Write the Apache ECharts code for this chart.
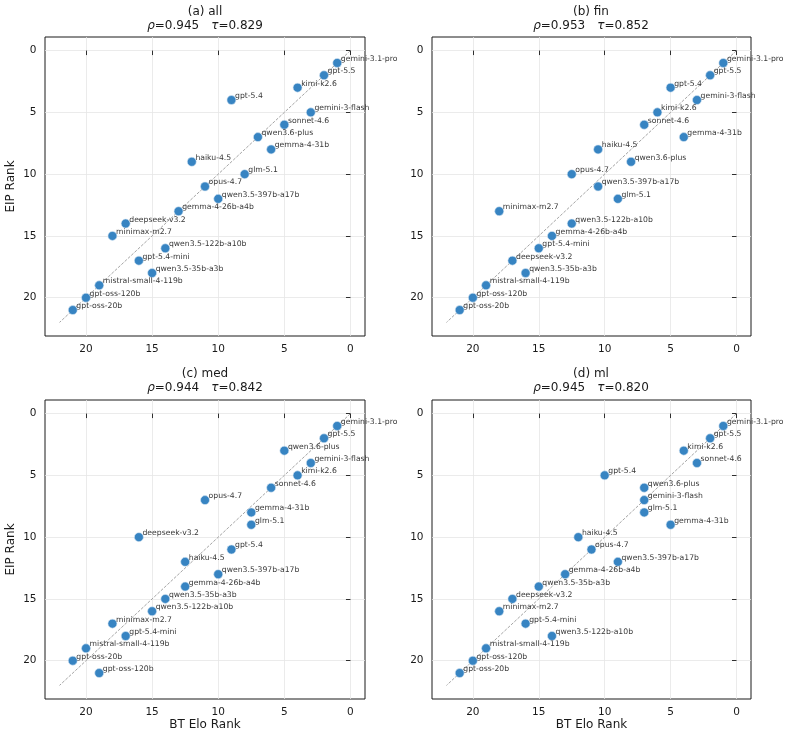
<!DOCTYPE html>
<html><head><meta charset="utf-8">
<script src="https://cdn.jsdelivr.net/npm/echarts@6/dist/echarts.min.js"></script>
<style>html,body{margin:0;padding:0;background:#fff}#c{width:790px;height:739px}</style>
</head><body><div id="c"></div>
<script>
// ---- data ----
const models = ['gemini-3.1-pro','gpt-5.5','kimi-k2.6','gpt-5.4','gemini-3-flash','sonnet-4.6','qwen3.6-plus','gemma-4-31b','haiku-4.5','glm-5.1','opus-4.7','qwen3.5-397b-a17b','gemma-4-26b-a4b','deepseek-v3.2','minimax-m2.7','qwen3.5-122b-a10b','gpt-5.4-mini','qwen3.5-35b-a3b','mistral-small-4-119b','gpt-oss-120b','gpt-oss-20b'];

const panelTitles = ['(a) all','(b) fin','(c) med','(d) ml'];
const rhoValues = ['0.945','0.953','0.944','0.945'];
const tauValues = ['0.829','0.852','0.842','0.820'];

// BT Elo rank (x) and EIP rank (y), in the order of `models`
const btAll  = [1,2,4,9,3,5,7,6,12,8,11,10,13,17,18,14,16,15,19,20,21];
const eipAll = [1,2,3,4,5,6,7,8,9,10,11,12,13,14,15,16,17,18,19,20,21];

const btFin  = [1,2,6,5,3,7,8,4,10.5,9,12.5,10.5,14,17,18,12.5,15,16,19,20,21];
const eipFin = [1,2,5,3,4,6,9,7,8,12,10,11,15,17,13,14,16,18,19,20,21];

const btMed  = [1,2,4,9,3,6,5,7.5,12.5,7.5,11,10,12.5,16,18,15,17,14,20,19,21];
const eipMed = [1,2,5,11,4,6,3,8,12,9,7,13,14,10,17,16,18,15,19,21,20];

const btMl   = [1,2,4,10,7,3,7,5,12,7,11,9,13,17,18,14,16,15,19,20,21];
const eipMl  = [1,2,3,5,7,4,6,9,10,8,11,12,13,15,16,18,17,14,19,20,21];

const tickValues = [0,5,10,15,20];
const diagEnds = [0,22];
const xAxisName = 'BT Elo Rank';
const yAxisName = 'EIP Rank';

// ---- chart ----
const FONT = 'DejaVu Sans';
const panels = [[btAll,eipAll],[btFin,eipFin],[btMed,eipMed],[btMl,eipMl]];
const gridBoxes = [
  {left:45, top:37, width:320, height:299},
  {left:432, top:37, width:319, height:299},
  {left:45, top:400, width:320, height:299},
  {left:432, top:400, width:319, height:299}
];
const titleCenters = [[205,12],[591,12],[205,373.5],[591,373.5]];

const grids = [], xAxes = [], yAxes = [], series = [], graphics = [];
panels.forEach((p, i) => {
  const g = gridBoxes[i];
  grids.push(Object.assign({show:true, borderColor:'#1a1a1a', borderWidth:1, backgroundColor:'transparent'}, g));
  xAxes.push({
    type:'value', gridIndex:i, inverse:true, min:-1.1, max:23.1,
    name: i >= 2 ? xAxisName : '', nameLocation:'middle', nameGap:19,
    nameTextStyle:{fontFamily:FONT, fontSize:12, color:'#1a1a1a'},
    axisLine:{show:false},
    axisTick:{show:true, length:4.5, customValues:tickValues, lineStyle:{color:'#1a1a1a', width:0.9}},
    axisLabel:{show:true, customValues:tickValues, margin:7.5, fontFamily:FONT, fontSize:10.5, color:'#1a1a1a'},
    splitLine:{show:true, lineStyle:{color:'#e6e6e6', width:0.8}}
  });
  yAxes.push({
    type:'value', gridIndex:i, inverse:true, min:-1.1, max:23.1,
    name: i % 2 === 0 ? yAxisName : '', nameLocation:'middle', nameGap:28, nameRotate:90,
    nameTextStyle:{fontFamily:FONT, fontSize:12, color:'#1a1a1a'},
    axisLine:{show:false},
    axisTick:{show:true, length:4.5, customValues:tickValues, lineStyle:{color:'#1a1a1a', width:0.9}},
    axisLabel:{show:true, customValues:tickValues, margin:8.5, fontFamily:FONT, fontSize:10.5, color:'#1a1a1a'},
    splitLine:{show:true, lineStyle:{color:'#e6e6e6', width:0.8}}
  });
  series.push({
    type:'line', xAxisIndex:i, yAxisIndex:i, silent:true, z:1,
    data: diagEnds.map(v => [v, v]), symbol:'none',
    lineStyle:{color:'#9a9a9a', width:0.9, type:[3,1.5]}
  });
  series.push({
    type:'scatter', xAxisIndex:i, yAxisIndex:i, z:2,
    symbolSize:9,
    itemStyle:{color:'#3784c2', borderColor:'#d6e6f3', borderWidth:0.6, opacity:1},
    label:{show:true, formatter:'{b}', position:'right', distance:0, offset:[-1.2,-4],
      fontFamily:FONT, fontSize:7.7, color:'#383838'},
    data: p[0].map((x, k) => ({name: models[k], value:[x, p[1][k]]}))
  });
  const [cx, cy] = titleCenters[i];
  graphics.push({type:'text', x:cx, y:cy, style:{text:panelTitles[i], fontFamily:FONT, fontSize:12, fill:'#1a1a1a', align:'center', verticalAlign:'middle'}});
  graphics.push({type:'text', x:cx, y:cy+14, style:{
    text:'{i|ρ}=' + rhoValues[i] + '\u2003{i|τ}=' + tauValues[i],
    fontFamily:FONT, fontSize:12, fill:'#1a1a1a', align:'center', verticalAlign:'middle',
    rich:{i:{fontFamily:FONT, fontSize:12, fontStyle:'italic', fill:'#1a1a1a'}}
  }});
});

const chart = echarts.init(document.getElementById('c'), null, {renderer:'canvas'});
chart.setOption({
  animation:false,
  backgroundColor:'#ffffff',
  grid:grids, xAxis:xAxes, yAxis:yAxes, series:series, graphic:graphics
});
</script></body></html>
